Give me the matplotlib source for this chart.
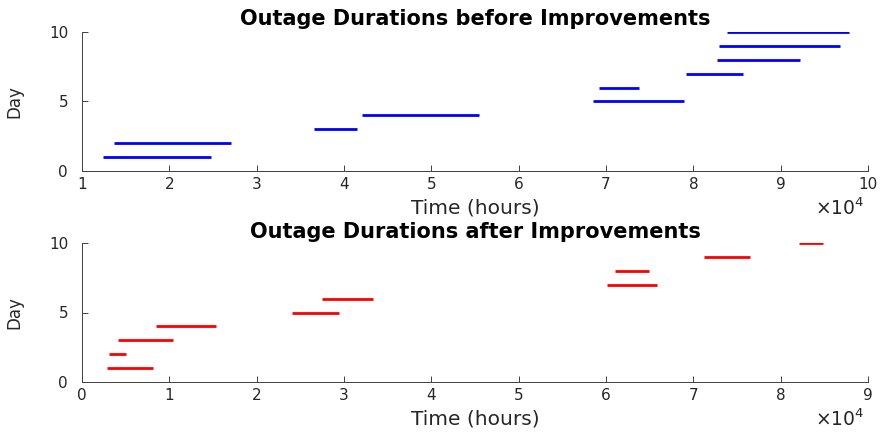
import matplotlib

matplotlib.use("Agg")
import matplotlib.pyplot as plt
from matplotlib.ticker import FuncFormatter

plt.rcParams["font.family"] = ["DejaVu Sans"]

# outage start / end times (hours) and the day index of each outage
days = [1, 2, 3, 4, 5, 6, 7, 8, 9, 10]
start_before = [12370, 13700, 36530, 42030, 68510, 69240, 79160, 82750, 82940, 83890]
end_before = [24740, 27060, 41490, 55420, 78900, 73820, 85730, 92220, 96800, 97830]
start_after = [2900, 3130, 4160, 8510, 24050, 27520, 60080, 61070, 71190, 82140]
end_after = [8170, 5070, 10460, 15310, 29430, 33320, 65840, 64930, 76490, 84810]

AXIS_GREY = "#404040"
TEXT_GREY = "#262626"

fig = plt.figure(figsize=(8.81, 4.32), dpi=100)
ax_top = fig.add_axes([82 / 881, 1 - 171 / 432, 786 / 881, 139 / 432])
ax_bot = fig.add_axes([82 / 881, 1 - 382 / 432, 786 / 881, 139 / 432])


def _style(ax, xlim, title, color, starts, ends, title_pad):
    ax.hlines(days, starts, ends, colors=color, linewidth=2)
    ax.set_xlim(*xlim)
    ax.set_ylim(0, 10)
    ax.set_yticks([0, 5, 10])
    ax.set_xticks(range(int(xlim[0]), int(xlim[1]) + 1, 10000))
    ax.xaxis.set_major_formatter(FuncFormatter(lambda v, _: f"{v / 1e4:g}"))
    for side in ("top", "right"):
        ax.spines[side].set_visible(False)
    for side in ("left", "bottom"):
        ax.spines[side].set_color(AXIS_GREY)
        ax.spines[side].set_linewidth(0.7)
    ax.tick_params(direction="in", length=4, width=0.7, color=AXIS_GREY,
                   labelcolor=TEXT_GREY, labelsize=11)
    ax.tick_params(axis="x", pad=4.5)
    ax.tick_params(axis="y", pad=10)
    ax.set_xlabel("Time (hours)", fontsize=14.5, color=TEXT_GREY, va="top")
    ax.xaxis.set_label_coords(0.5, -0.2)
    ax.set_ylabel("Day", fontsize=12, color=TEXT_GREY)
    ax.yaxis.set_label_coords(-0.074, 0.5)
    ax.set_title(title, fontsize=15, fontweight="bold", color="black", pad=title_pad)
    ax.text(0.996, -0.27, r"$\times\mathregular{10^{4}}$", transform=ax.transAxes,
            ha="right", va="center", fontsize=13.5, color=TEXT_GREY)


_style(ax_top, (10000, 100000), "Outage Durations before Improvements", "#0000ff",
       start_before, end_before, 5)
_style(ax_bot, (0, 90000), "Outage Durations after Improvements", "#ff0000",
       start_after, end_after, 3.5)

fig.savefig("out.png", dpi=100)
